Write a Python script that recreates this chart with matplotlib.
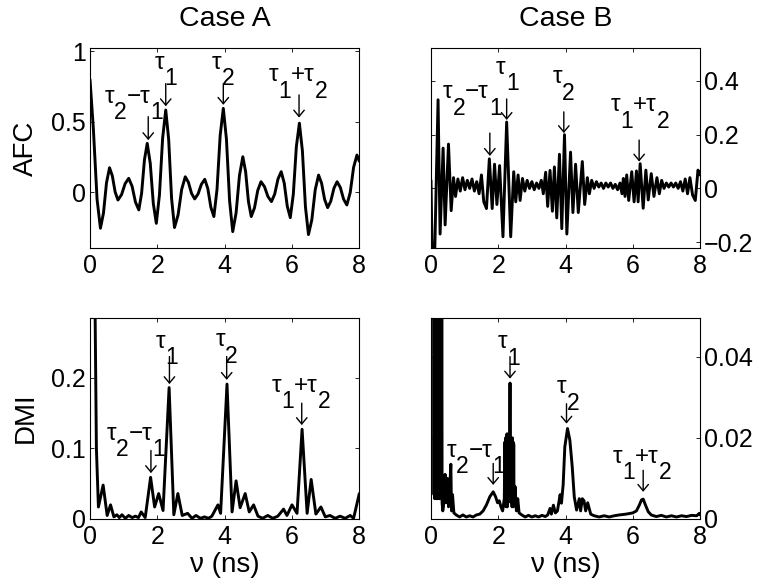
import matplotlib
matplotlib.use("Agg")
import matplotlib.pyplot as plt
from matplotlib.offsetbox import TextArea, HPacker, VPacker, DrawingArea, AnnotationBbox

plt.rcParams['font.family'] = ['Liberation Sans', 'DejaVu Sans']
plt.rcParams['axes.unicode_minus'] = True

# ---------------- data ----------------
afc_a_x = [0.00, 0.10, 0.21, 0.31, 0.40, 0.49, 0.58, 0.663, 0.747, 0.83, 0.937, 1.043, 1.15, 1.25, 1.35,
           1.45, 1.533, 1.617, 1.70, 1.79, 1.88, 1.97, 2.063, 2.157, 2.25, 2.337, 2.423, 2.51, 2.617, 2.723,
           2.83, 2.923, 3.017, 3.11, 3.21, 3.31, 3.41, 3.50, 3.59, 3.68, 3.773, 3.867, 3.96, 4.053, 4.147,
           4.24, 4.34, 4.44, 4.54, 4.623, 4.707, 4.79, 4.887, 4.983, 5.08, 5.183, 5.287, 5.39, 5.487, 5.583,
           5.68, 5.77, 5.86, 5.95, 6.04, 6.13, 6.22, 6.31, 6.40, 6.49, 6.59, 6.69, 6.79, 6.88, 6.97,
           7.06, 7.153, 7.247, 7.34, 7.437, 7.533, 7.63, 7.73, 7.83, 7.93, 8.00]
afc_a_y = [0.80, 0.45, -0.05, -0.255, -0.148, 0.067, 0.174, 0.117, 0.002, -0.055, -0.017, 0.061, 0.099, 0.043, -0.069,
           -0.125, -0.007, 0.229, 0.347, 0.205, -0.078, -0.22, -0.019, 0.382, 0.583, 0.375, -0.042, -0.25, -0.16, 0.02,
           0.11, 0.071, -0.008, -0.047, -0.012, 0.057, 0.092, 0.026, -0.106, -0.172, 0.02, 0.403, 0.595, 0.377, -0.061,
           -0.279, -0.146, 0.119, 0.252, 0.146, -0.066, -0.172, -0.110, 0.013, 0.075, 0.040, -0.031, -0.066, -0.013, 0.093,
           0.146, 0.065, -0.099, -0.18, -0.013, 0.323, 0.49, 0.293, -0.103, -0.30, -0.195, 0.017, 0.122, 0.064, -0.051,
           -0.109, -0.063, 0.029, 0.075, 0.034, -0.049, -0.09, -0.002, 0.176, 0.264, 0.22]

afc_b_x = [0.00, 0.04, 0.10, 0.21, 0.27, 0.36, 0.42, 0.52, 0.60, 0.67, 0.73, 0.80, 0.87, 0.94, 1.01, 1.08, 1.15,
           1.22, 1.29, 1.36, 1.43, 1.50, 1.57, 1.65, 1.735, 1.82, 1.89, 1.96, 2.04, 2.14, 2.25, 2.37, 2.46,
           2.52, 2.59, 2.65, 2.72, 2.79, 2.86, 2.93, 3.00, 3.07, 3.14, 3.21, 3.28, 3.34, 3.41, 3.47, 3.54,
           3.61, 3.67, 3.74, 3.82, 3.89, 3.97, 4.04, 4.15, 4.22, 4.30, 4.38, 4.50, 4.57, 4.65, 4.71, 4.78,
           4.85, 4.92, 4.99, 5.06, 5.13, 5.20, 5.27, 5.34, 5.41, 5.48, 5.55, 5.62, 5.68, 5.72, 5.77, 5.82,
           5.88, 5.97, 6.04, 6.11, 6.16, 6.22, 6.31, 6.39, 6.46, 6.55, 6.63, 6.72, 6.79, 6.86, 6.93, 7.00,
           7.07, 7.14, 7.21, 7.28, 7.35, 7.42, 7.49, 7.56, 7.63, 7.70, 7.78, 7.86, 7.94, 8.00]
afc_b_y = [0.03, -0.30, -0.30, 0.33, -0.17, 0.15, -0.136, 0.165, -0.083, 0.04, -0.03, 0.035, -0.01, 0.04, -0.005, 0.03, 0.0,
           0.035, -0.01, 0.025, -0.02, 0.05, -0.05, -0.075, 0.11, -0.075, 0.09, -0.06, 0.085, -0.18, 0.247, -0.18, 0.062,
           -0.05, 0.05, -0.045, 0.037, -0.01, 0.03, 0.0, 0.025, -0.005, 0.02, 0.0, 0.03, -0.02, 0.06, -0.067, 0.067,
           -0.085, 0.08, -0.11, 0.127, -0.15, 0.20, -0.17, 0.135, -0.09, 0.09, -0.09, 0.10, -0.06, 0.04, -0.02, 0.03,
           0.0, 0.025, 0.005, 0.02, 0.0, 0.02, 0.005, 0.02, 0.0, 0.015, -0.005, 0.02, -0.02, 0.037, -0.03, 0.05,
           -0.045, 0.062, -0.05, 0.065, -0.05, 0.092, -0.074, 0.068, -0.043, 0.055, -0.03, 0.04, -0.02, 0.03, 0.0, 0.02,
           0.005, 0.02, 0.005, 0.02, 0.0, 0.025, -0.01, 0.035, -0.02, 0.04, -0.025, -0.045, 0.068, 0.05]

dmi_a_x = [0.00, 0.15, 0.19, 0.25, 0.39, 0.51, 0.61, 0.71, 0.80, 0.87, 0.95, 1.05, 1.15, 1.25, 1.35, 1.44, 1.52,
           1.64, 1.80, 1.92, 2.04, 2.17, 2.35, 2.49, 2.61, 2.74, 2.90, 3.03, 3.15, 3.28, 3.40, 3.52, 3.62, 3.80,
           3.88, 4.07, 4.22, 4.34, 4.46, 4.61, 4.73, 4.86, 4.99, 5.13, 5.28, 5.43, 5.58, 5.75, 5.85, 6.00, 6.15,
           6.30, 6.45, 6.57, 6.71, 6.86, 6.99, 7.13, 7.28, 7.43, 7.58, 7.73, 7.83, 8.00]
dmi_a_y = [1.50, 0.30, 0.10, 0.017, 0.048, 0.005, 0.020, 0.003, 0.006, 0.002, 0.006, 0.001, 0.005, 0.002, 0.004, 0.002, 0.010,
           0.002, 0.059, 0.017, 0.036, 0.012, 0.186, 0.006, 0.036, 0.005, 0.008, 0.001, 0.005, 0.001, 0.003, 0.001, 0.004, 0.020,
           0.008, 0.191, 0.010, 0.054, 0.016, 0.036, 0.010, 0.020, 0.004, 0.001, 0.005, 0.001, 0.004, 0.014, 0.005, 0.020, 0.008,
           0.127, 0.008, 0.056, 0.007, 0.017, 0.003, 0.005, 0.001, 0.004, 0.001, 0.005, 0.001, 0.036]

dmi_b_x = [0.00, 0.08, 0.09, 0.10, 0.11, 0.12, 0.13, 0.14, 0.15, 0.16, 0.17, 0.18, 0.20, 0.22, 0.23, 0.24,
           0.25, 0.26, 0.27, 0.28, 0.29, 0.30, 0.31, 0.32, 0.33, 0.35, 0.37, 0.42, 0.45, 0.49, 0.52, 0.56,
           0.59, 0.61, 0.64, 0.68, 0.75, 0.85, 0.95, 1.05, 1.15, 1.25, 1.35, 1.45, 1.55, 1.65, 1.75, 1.85,
           1.92, 1.98, 2.03, 2.08, 2.13, 2.18, 2.20, 2.21, 2.22, 2.23, 2.24, 2.25, 2.26, 2.27, 2.28, 2.29,
           2.30, 2.31, 2.32, 2.33, 2.34, 2.35, 2.36, 2.37, 2.38, 2.39, 2.40, 2.41, 2.42, 2.43, 2.44, 2.45,
           2.46, 2.47, 2.50, 2.54, 2.58, 2.62, 2.70, 2.80, 2.90, 3.00, 3.10, 3.20, 3.30, 3.40, 3.47, 3.54,
           3.58, 3.64, 3.70, 3.76, 3.84, 3.88, 3.93, 3.98, 4.06, 4.13, 4.20, 4.26, 4.33, 4.38, 4.41, 4.45,
           4.50, 4.55, 4.60, 4.66, 4.75, 4.85, 5.00, 5.15, 5.30, 5.45, 5.60, 5.80, 6.00, 6.11, 6.20, 6.26,
           6.31, 6.38, 6.46, 6.55, 6.70, 6.85, 7.00, 7.15, 7.30, 7.45, 7.60, 7.75, 7.90, 7.98, 8.00]
dmi_b_y = [0.300, 0.080, 0.006, 0.080, 0.005, 0.080, 0.007, 0.080, 0.006, 0.080, 0.005, 0.080, 0.005, 0.080, 0.006,
           0.080, 0.005, 0.080, 0.006, 0.080, 0.005, 0.080, 0.006, 0.080, 0.004, 0.002, 0.003, 0.011, 0.004, 0.010, 0.003, 0.008,
           0.0135, 0.002, 0.006, 0.0015, 0.001, 0.0005, 0.001, 0.0005, 0.0008, 0.0005, 0.001, 0.0012, 0.002, 0.0035, 0.0055, 0.0067,
           0.0055, 0.004, 0.0045, 0.003, 0.002, 0.005, 0.019, 0.004, 0.020, 0.003, 0.019, 0.004, 0.021, 0.003, 0.019, 0.004,
           0.020, 0.005, 0.019, 0.006, 0.024, 0.0335, 0.022, 0.005, 0.020, 0.004, 0.019, 0.003, 0.020, 0.004, 0.019, 0.003,
           0.0185, 0.004, 0.008, 0.002, 0.005, 0.0015, 0.001, 0.0005, 0.0009, 0.0005, 0.0008, 0.0005, 0.0009, 0.0006, 0.001, 0.0026,
           0.0012, 0.0034, 0.0015, 0.002, 0.006, 0.0039, 0.0084, 0.0178, 0.0223, 0.0194, 0.0129, 0.0055, 0.0022, 0.004, 0.005, 0.002,
           0.005, 0.0045, 0.002, 0.004, 0.0012, 0.0008, 0.0005, 0.0008, 0.0005, 0.0008, 0.001, 0.0012, 0.0015, 0.002, 0.0035, 0.0047,
           0.0049, 0.0034, 0.0018, 0.001, 0.0006, 0.0009, 0.0005, 0.0008, 0.0005, 0.0008, 0.0006, 0.0009, 0.0008, 0.0014, 0.001]

# annotation labels: list of (text, is_subscript)
label_parts = [
    [("τ", False), ("2", True), ("−τ", False), ("1", True)],
    [("τ", False), ("1", True)],
    [("τ", False), ("2", True)],
    [("τ", False), ("1", True), ("+τ", False), ("2", True)],
]
# per panel: label centre x, label bottom y, arrow x, arrow tail y, arrow tip y
afc_a_lab_x = [1.31, 2.26, 3.96, 6.19]
afc_a_lab_y = [0.536, 0.78, 0.78, 0.69]
afc_a_arr_x = [1.73, 2.25, 3.96, 6.21]
afc_a_arr_tail = [0.536, 0.77, 0.77, 0.69]
afc_a_arr_tip = [0.37, 0.61, 0.62, 0.53]

afc_b_lab_x = [1.23, 2.27, 3.95, 6.21]
afc_b_lab_y = [0.285, 0.375, 0.34, 0.236]
afc_b_arr_x = [1.75, 2.25, 3.95, 6.19]
afc_b_arr_tail = [0.206, 0.333, 0.285, 0.18]
afc_b_arr_tip = [0.121, 0.255, 0.206, 0.10]

dmi_a_lab_x = [1.37, 2.28, 4.06, 6.26]
dmi_a_lab_y = [0.093, 0.223, 0.225, 0.161]
dmi_a_arr_x = [1.81, 2.36, 4.06, 6.29]
dmi_a_arr_tail = [0.097, 0.23, 0.23, 0.164]
dmi_a_arr_tip = [0.065, 0.191, 0.197, 0.133]

dmi_b_lab_x = [1.33, 2.32, 4.08, 6.28]
dmi_b_lab_y = [0.012, 0.0387, 0.0276, 0.0104]
dmi_b_arr_x = [1.85, 2.35, 4.03, 6.31]
dmi_b_arr_tail = [0.0137, 0.040, 0.0284, 0.012]
dmi_b_arr_tip = [0.0084, 0.0346, 0.0235, 0.0067]

xticks = [0, 2, 4, 6, 8]
afc_a_yticks = [0, 0.5, 1]
afc_a_yticklabels = ["0", "0.5", "1"]
afc_b_yticks = [-0.2, 0, 0.2, 0.4]
afc_b_yticklabels = ["\u22120.2", "0", "0.2", "0.4"]
dmi_a_yticks = [0, 0.1, 0.2]
dmi_a_yticklabels = ["0", "0.1", "0.2"]
dmi_b_yticks = [0, 0.02, 0.04]
dmi_b_yticklabels = ["0", "0.02", "0.04"]

# ---------------- figure ----------------
fig = plt.figure(figsize=(7.59, 5.88), dpi=100)
W, H = 759.0, 588.0


def make_ax(l, t, r, b):
    return fig.add_axes([l / W, 1 - b / H, (r - l) / W, (b - t) / H])


ax_tl = make_ax(90, 47.7, 359.3, 248)
ax_tr = make_ax(431, 47.7, 700, 248)
ax_bl = make_ax(90, 317.7, 359.3, 519)
ax_br = make_ax(431, 317.7, 700, 519)

LABEL_FS = 17.5
SUB_FS = 16.5
SUB_SHIFT = 11.0
LABEL_DROP = -5.5  # points, compensates text descent


def tau_label(ax, x, y, parts):
    children = []
    for t, sub in parts:
        if sub:
            ta = TextArea(t, textprops=dict(fontsize=SUB_FS, color='k'))
            children.append(VPacker(children=[DrawingArea(0, SUB_SHIFT), ta], sep=0, pad=0, align='left'))
        else:
            ta = TextArea(t, textprops=dict(fontsize=LABEL_FS, color='k'))
            children.append(ta)
    box = HPacker(children=children, align='top', sep=0, pad=0)
    ab = AnnotationBbox(box, (x, y), xycoords='data', xybox=(0, LABEL_DROP), boxcoords='offset points',
                        box_alignment=(0.5, 0.0), frameon=False, pad=0, annotation_clip=False)
    ax.add_artist(ab)


def style(ax, ylim, yticks, yticklabels, right):
    ax.set_xlim(0, 8)
    ax.set_ylim(*ylim)
    ax.set_xticks(xticks)
    ax.set_xticklabels([str(v) for v in xticks])
    ax.set_yticks(yticks)
    ax.set_yticklabels(yticklabels)
    ax.tick_params(direction='in', length=3, width=0.6, top=True, right=True, bottom=True, left=True,
                   labelsize=18, pad=3)
    ax.tick_params(axis='x', pad=4)
    if right:
        ax.tick_params(axis='y', labelleft=False, labelright=True)
    for s in ax.spines.values():
        s.set_linewidth(0.8)


panels = [
    (ax_tl, afc_a_x, afc_a_y, (-0.395, 1.025), afc_a_yticks, afc_a_yticklabels, False,
     afc_a_lab_x, afc_a_lab_y, afc_a_arr_x, afc_a_arr_tail, afc_a_arr_tip),
    (ax_tr, afc_b_x, afc_b_y, (-0.222, 0.524), afc_b_yticks, afc_b_yticklabels, True,
     afc_b_lab_x, afc_b_lab_y, afc_b_arr_x, afc_b_arr_tail, afc_b_arr_tip),
    (ax_bl, dmi_a_x, dmi_a_y, (0, 0.285), dmi_a_yticks, dmi_a_yticklabels, False,
     dmi_a_lab_x, dmi_a_lab_y, dmi_a_arr_x, dmi_a_arr_tail, dmi_a_arr_tip),
    (ax_br, dmi_b_x, dmi_b_y, (0, 0.0496), dmi_b_yticks, dmi_b_yticklabels, True,
     dmi_b_lab_x, dmi_b_lab_y, dmi_b_arr_x, dmi_b_arr_tail, dmi_b_arr_tip),
]

for (ax, xs, ys, ylim, yt, ytl, right, lx, ly, axx, atail, atip) in panels:
    ax.plot(xs, ys, color='k', lw=2.1, solid_joinstyle='round', solid_capstyle='round')
    style(ax, ylim, yt, ytl, right)
    for i, parts in enumerate(label_parts):
        tau_label(ax, lx[i], ly[i], parts)
        ax.annotate('', xy=(axx[i], atip[i]), xytext=(axx[i], atail[i]), xycoords='data',
                    arrowprops=dict(arrowstyle='->,head_length=0.3,head_width=0.25', color='k', lw=1.0,
                                    shrinkA=0, shrinkB=0, mutation_scale=15))

ax_tl.set_title("Case A", fontsize=20.5, pad=15.6)
ax_tr.set_title("Case B", fontsize=20.5, pad=15.6)

fig.text(26 / W, 1 - 148 / H, "AFC", rotation=90, ha='center', va='center', fontsize=20)
fig.text(26 / W, 1 - 418 / H, "DMI", rotation=90, ha='center', va='center', fontsize=20)

for ax in (ax_bl, ax_br):
    ax.set_xlabel("ν (ns)", fontsize=20)
    ax.xaxis.set_label_coords(0.5, -0.165)

fig.savefig("out.png", dpi=100)
